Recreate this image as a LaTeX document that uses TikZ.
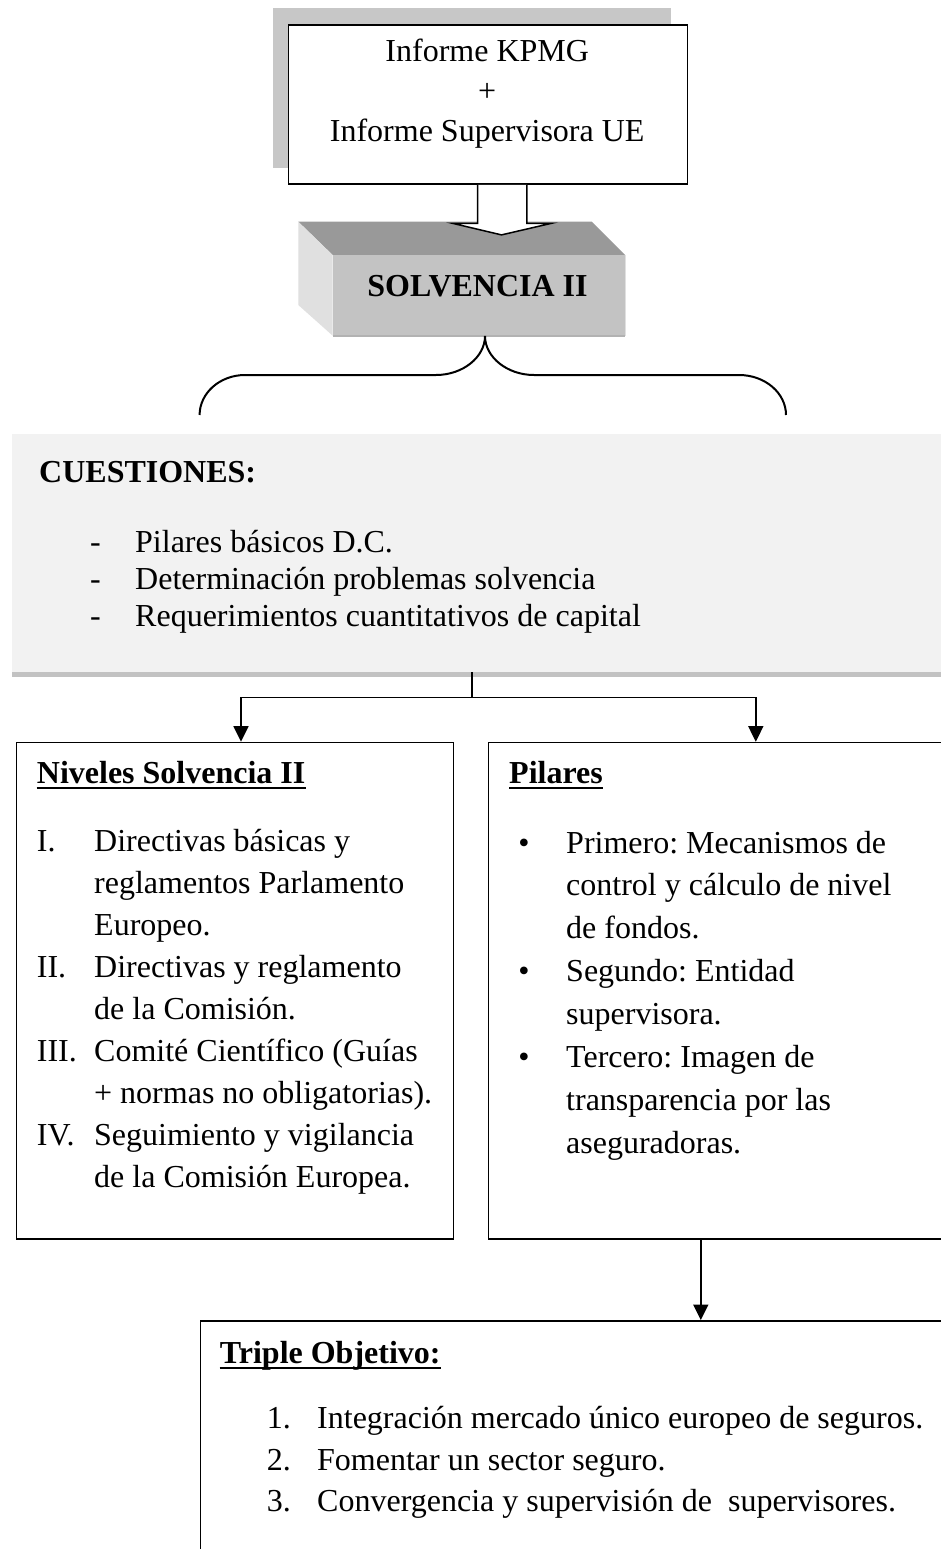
\documentclass[tikz,border=0pt]{standalone}
\usepackage{fontspec}
\setmainfont{Liberation Serif}
\usepackage{tikz}
\usetikzlibrary{calc,arrows.meta}
\frenchspacing
\tikzset{
	box/.style={draw=black, line width=1.6pt, fill=white, inner sep=0pt, anchor=north west},
	panel/.style={fill=black!5, inner sep=0pt, anchor=north west},
	txt/.style={inner sep=0pt, anchor=base west},
	bold/.style={txt, font=\fontsize{32}{40}\selectfont\bfseries},
	uline/.style={line width=2.2pt},
	wire/.style={line width=1.5pt},
	conn/.style={line width=1.5pt, -{Triangle[length=15.5pt, width=15pt]}},
}

\begin{document}
\begin{tikzpicture}[x=1pt, y=-1pt, font=\fontsize{32}{40}\selectfont]
			%%%%% START %%%%%
			
			\clip (0, 0) rectangle (941, 1549);
			\fill[white] (0, 0) rectangle (941, 1549);
			
			\fill[black!22] (272.7, 8) rectangle (670.7, 168);
			\node[box, minimum width=399, minimum height=159.3] (informe) at (287.7, 24) {};
			\node[txt, anchor=base] (kpmg) at (487.2, 61.7) {Informe KPMG};
			\node[txt, anchor=base] (mas) at (487.2, 101.7) {+};
			\node[txt, anchor=base] (ue) at (487.2, 141.7) {Informe Supervisora UE};
			
			\fill[black!40] (298.3, 221.7) -- (591.7, 221.7) -- (625, 255) -- (332.7, 255) -- cycle;
			\fill[black!12] (298.3, 221.7) -- (332.7, 255) -- (332.7, 335.7) -- (298.3, 305) -- cycle;
			\node[panel, fill=black!23.5, minimum width=292.3, minimum height=80.7] (solv) at (332.7, 255) {};
			\draw[black!30, line width=1.5pt] (solv.south west) -- (solv.south east);
			\draw[black!12, line width=1.5pt] (solv.north east) -- (solv.south east);
			\node[bold, anchor=base] (solvtxt) at (477.5, 296.7) {SOLVENCIA II};
			
			\coordinate (tip) at ($(informe.south)+(13.5, 50)$);
			\draw[wire, fill=white] ($(tip)+(-24, -50)$) -- ($(tip)+(-24, -11.6)$) -- ($(tip)+(-49, -11.6)$) -- (tip) -- ($(tip)+(50, -11.6)$) -- ($(tip)+(25.3, -11.6)$) -- ($(tip)+(25.3, -50)$);
			
			\draw[line width=2pt] (199.6, 415) .. controls (199.6, 393) and (220, 375) .. (245, 375) -- (436, 375) .. controls (463, 375) and (485, 357) .. (485, 336) .. controls (485, 357) and (507, 375) .. (534, 375) -- (739, 375) .. controls (765, 375) and (786, 393) .. (786, 415);
			
			\node[panel, minimum width=950, minimum height=238] (cuest) at (12, 434) {};
			\fill[black!24] (12, 672) rectangle (960, 677);
			\node[bold] (cuesthd) at (39, 482.3) {CUESTIONES:};
			\node[txt] (dA) at (90, 552.7) {-};
			\node[txt] (cuA) at (135, 552.7) {Pilares básicos D.C.};
			\node[txt] (dB) at (90, 589.7) {-};
			\node[txt] (cuB) at (135, 589.7) {Determinación problemas solvencia};
			\node[txt] (dC) at (90, 626.7) {-};
			\node[txt] (cuC) at (135, 626.7) {Requerimientos cuantitativos de capital};
			
			\node[box, minimum width=437, minimum height=496.6] (niveles) at (15.7, 741.7) {};
			\node[box, minimum width=534.6, minimum height=496.6] (pilares) at (487.7, 741.7) {};
			\node[box, minimum width=1000.8, minimum height=300] (triple) at (199.6, 1320) {};
			
			\coordinate (split) at (472, 697.7);
			\draw[wire] (split |- cuest.south) -- (split);
			\draw[conn] (split) -| ([xshift=6pt]niveles.north);
			\draw[conn] (split) -| (pilares.north);
			\draw[conn] (pilares.south -| triple.north) -- (triple.north);
			
			\node[bold] (nivhd) at (36.7, 783.3) {Niveles Solvencia II};
			\draw[uline] ([yshift=-5pt]nivhd.base west) -- ([yshift=-5pt]nivhd.base east);
			\node[txt] (nI) at (36.7, 851.7) {I.};
			\node[txt] (nvA) at (94, 851.7) {Directivas básicas y};
			\node[txt] (nvB) at (94, 893.7) {reglamentos Parlamento};
			\node[txt] (nvC) at (94, 935.7) {Europeo.};
			\node[txt] (nII) at (36.7, 977.7) {II.};
			\node[txt] (nvD) at (94, 977.7) {Directivas y reglamento};
			\node[txt] (nvE) at (94, 1019.7) {de la Comisión.};
			\node[txt] (nIII) at (36.7, 1061.7) {III.};
			\node[txt] (nvF) at (94, 1061.7) {Comité Científico (Guías};
			\node[txt] (nvG) at (94, 1103.7) {+ normas no obligatorias).};
			\node[txt] (nIV) at (36.7, 1145.7) {IV.};
			\node[txt] (nvH) at (94, 1145.7) {Seguimiento y vigilancia};
			\node[txt] (nvJ) at (94, 1187.7) {de la Comisión Europea.};
			
			\node[bold] (pilhd) at (509, 783.3) {Pilares};
			\draw[uline] ([yshift=-5pt]pilhd.base west) -- ([yshift=-5pt]pilhd.base east);
			\node[txt, anchor=base] (bA) at (524, 853) {•};
			\node[txt] (piA) at (566, 853) {Primero: Mecanismos de};
			\node[txt] (piB) at (566, 895.9) {control y cálculo de nivel};
			\node[txt] (piC) at (566, 938.8) {de fondos.};
			\node[txt, anchor=base] (bB) at (524, 981.7) {•};
			\node[txt] (piD) at (566, 981.7) {Segundo: Entidad};
			\node[txt] (piE) at (566, 1024.6) {supervisora.};
			\node[txt, anchor=base] (bC) at (524, 1067.5) {•};
			\node[txt] (piF) at (566, 1067.5) {Tercero: Imagen de};
			\node[txt] (piG) at (566, 1110.4) {transparencia por las};
			\node[txt] (piH) at (566, 1153.3) {aseguradoras.};
			
			\node[bold] (trihd) at (219.7, 1363.3) {Triple Objetivo:};
			\draw[uline] ([yshift=-5pt]trihd.base west) -- ([yshift=-5pt]trihd.base east);
			\node[txt] (tA) at (266.6, 1428.3) {1.};
			\node[txt] (trA) at (317, 1428.3) {Integración mercado único europeo de seguros.};
			\node[txt] (tB) at (266.6, 1470) {2.};
			\node[txt] (trB) at (317, 1470) {Fomentar un sector seguro.};
			\node[txt] (tC) at (266.6, 1511.7) {3.};
			\node[txt] (trC) at (317, 1511.7) {Convergencia y supervisión de\ \ supervisores.};
			
			%%%%% END %%%%%
\end{tikzpicture}
\end{document}
